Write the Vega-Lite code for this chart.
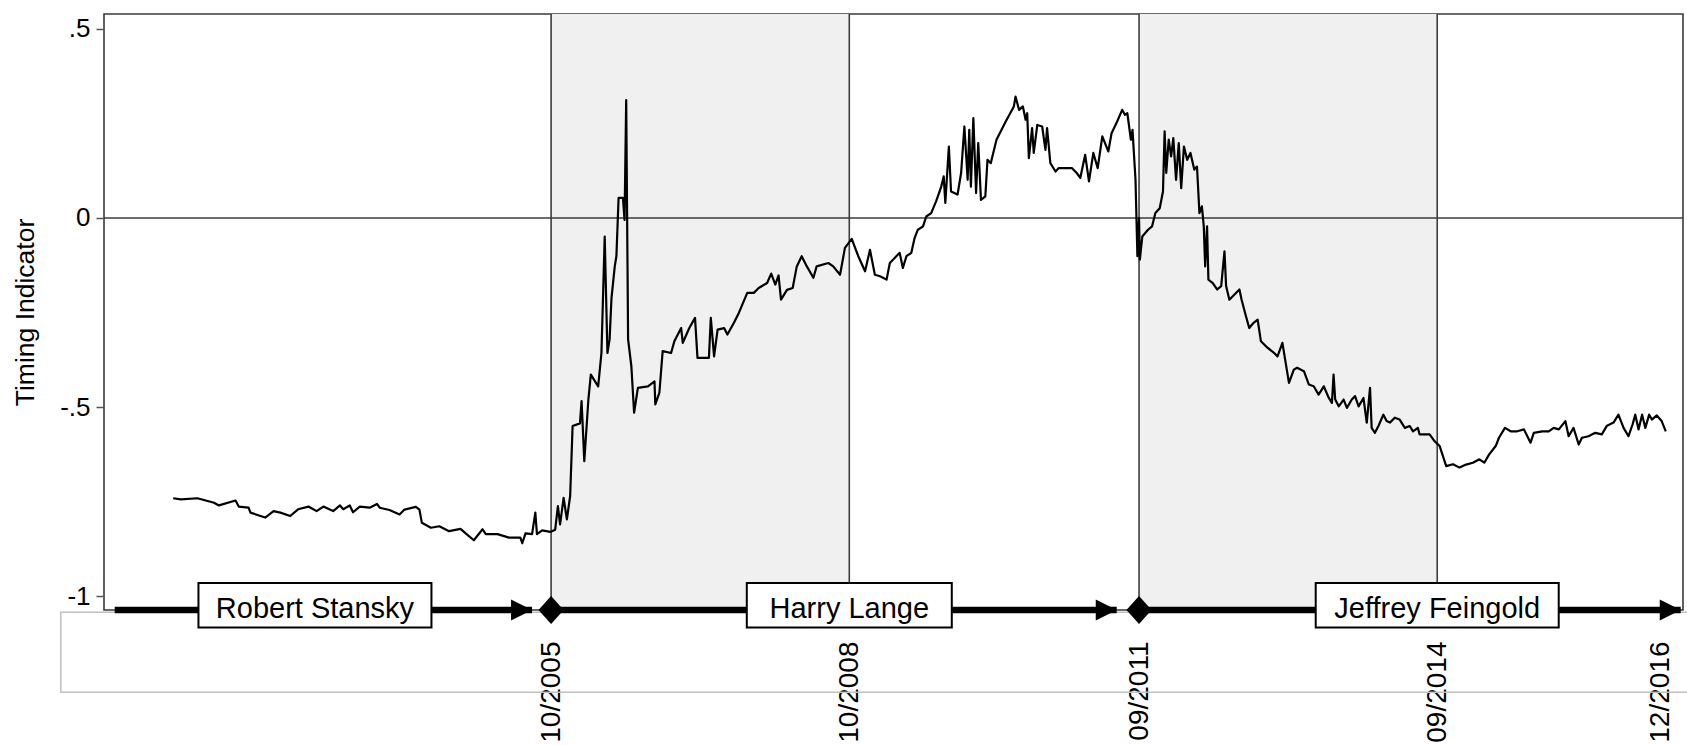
{
  "$schema": "https://vega.github.io/schema/vega-lite/v6.json",
  "width": 1579,
  "height": 596,
  "autosize": {"type": "none"},
  "padding": {"left": 104, "top": 14, "right": 4, "bottom": 135},
  "background": "white",
  "config": {
    "font": "Liberation Sans",
    "view": {"stroke": "#3a3a3a", "strokeWidth": 1.6},
    "axis": {"labelColor": "#000", "titleColor": "#000", "labelFont": "Liberation Sans", "titleFont": "Liberation Sans"}
  },
  "datasets": {
    "series": [
      {"d":"2001-12-12","v":-0.741},{"d":"2002-01-10","v":-0.744},{"d":"2002-03-11","v":-0.741},{"d":"2002-05-11","v":-0.753},{"d":"2002-05-29","v":-0.760},{"d":"2002-07-29","v":-0.747},{"d":"2002-08-10","v":-0.763},{"d":"2002-09-15","v":-0.766},{"d":"2002-09-22","v":-0.779},{"d":"2002-11-15","v":-0.792},{"d":"2002-12-16","v":-0.775},
      {"d":"2003-01-10","v":-0.779},{"d":"2003-02-15","v":-0.788},{"d":"2003-03-17","v":-0.770},{"d":"2003-04-23","v":-0.763},{"d":"2003-05-23","v":-0.775},{"d":"2003-06-17","v":-0.763},{"d":"2003-07-23","v":-0.775},{"d":"2003-08-17","v":-0.760},{"d":"2003-08-29","v":-0.770},{"d":"2003-09-22","v":-0.760},{"d":"2003-10-04","v":-0.778},{"d":"2003-10-29","v":-0.763},{"d":"2003-12-04","v":-0.766},{"d":"2003-12-31","v":-0.756},
      {"d":"2004-01-10","v":-0.766},{"d":"2004-02-15","v":-0.772},{"d":"2004-03-23","v":-0.784},{"d":"2004-04-10","v":-0.771},{"d":"2004-05-22","v":-0.764},{"d":"2004-06-04","v":-0.771},{"d":"2004-06-13","v":-0.806},{"d":"2004-07-16","v":-0.819},{"d":"2004-08-16","v":-0.815},{"d":"2004-09-21","v":-0.828},{"d":"2004-11-02","v":-0.822},{"d":"2004-11-21","v":-0.834},{"d":"2004-12-21","v":-0.852},
      {"d":"2005-01-22","v":-0.823},{"d":"2005-02-03","v":-0.836},{"d":"2005-03-18","v":-0.836},{"d":"2005-04-29","v":-0.845},{"d":"2005-06-10","v":-0.845},{"d":"2005-06-17","v":-0.860},{"d":"2005-06-29","v":-0.834},{"d":"2005-07-23","v":-0.836},{"d":"2005-08-04","v":-0.779},{"d":"2005-08-10","v":-0.836},{"d":"2005-08-29","v":-0.826},{"d":"2005-09-28","v":-0.830},{"d":"2005-10-16","v":-0.824},{"d":"2005-10-26","v":-0.762},{"d":"2005-11-03","v":-0.810},{"d":"2005-11-16","v":-0.740},{"d":"2005-11-28","v":-0.797},{"d":"2005-12-10","v":-0.735},{"d":"2005-12-19","v":-0.550},
      {"d":"2006-01-15","v":-0.543},{"d":"2006-01-21","v":-0.484},{"d":"2006-01-31","v":-0.643},{"d":"2006-02-15","v":-0.480},{"d":"2006-02-24","v":-0.414},{"d":"2006-03-23","v":-0.445},{"d":"2006-04-04","v":-0.357},{"d":"2006-04-16","v":-0.049},{"d":"2006-04-26","v":-0.357},{"d":"2006-05-04","v":-0.321},{"d":"2006-05-11","v":-0.211},{"d":"2006-05-23","v":-0.128},{"d":"2006-05-29","v":-0.101},{"d":"2006-06-06","v":0.053},{"d":"2006-06-22","v":0.053},{"d":"2006-06-28","v":-0.005},{"d":"2006-07-04","v":0.312},{"d":"2006-07-11","v":-0.321},{"d":"2006-07-23","v":-0.392},{"d":"2006-08-02","v":-0.515},{"d":"2006-08-16","v":-0.449},{"d":"2006-09-22","v":-0.445},{"d":"2006-10-16","v":-0.432},{"d":"2006-10-19","v":-0.493},{"d":"2006-11-03","v":-0.462},{"d":"2006-11-15","v":-0.352},{"d":"2006-12-16","v":-0.357},{"d":"2006-12-28","v":-0.326},
      {"d":"2007-01-22","v":-0.291},{"d":"2007-01-28","v":-0.330},{"d":"2007-02-21","v":-0.291},{"d":"2007-03-14","v":-0.264},{"d":"2007-03-23","v":-0.370},{"d":"2007-05-04","v":-0.370},{"d":"2007-05-11","v":-0.264},{"d":"2007-05-23","v":-0.366},{"d":"2007-06-05","v":-0.295},{"d":"2007-06-29","v":-0.291},{"d":"2007-07-11","v":-0.308},{"d":"2007-08-04","v":-0.277},{"d":"2007-08-22","v":-0.251},{"d":"2007-09-22","v":-0.198},{"d":"2007-10-16","v":-0.198},{"d":"2007-11-03","v":-0.185},{"d":"2007-12-04","v":-0.172},{"d":"2007-12-19","v":-0.147},
      {"d":"2008-01-03","v":-0.176},{"d":"2008-01-15","v":-0.152},{"d":"2008-01-24","v":-0.216},{"d":"2008-02-15","v":-0.190},{"d":"2008-03-07","v":-0.185},{"d":"2008-03-22","v":-0.128},{"d":"2008-04-09","v":-0.101},{"d":"2008-04-28","v":-0.128},{"d":"2008-05-22","v":-0.158},{"d":"2008-06-03","v":-0.128},{"d":"2008-07-16","v":-0.119},{"d":"2008-08-03","v":-0.128},{"d":"2008-08-28","v":-0.150},{"d":"2008-09-15","v":-0.079},{"d":"2008-10-10","v":-0.055},{"d":"2008-11-03","v":-0.101},{"d":"2008-11-28","v":-0.141},{"d":"2008-12-16","v":-0.084},
      {"d":"2009-01-03","v":-0.150},{"d":"2009-01-22","v":-0.154},{"d":"2009-02-15","v":-0.163},{"d":"2009-02-27","v":-0.119},{"d":"2009-04-04","v":-0.092},{"d":"2009-04-16","v":-0.132},{"d":"2009-04-29","v":-0.101},{"d":"2009-05-17","v":-0.092},{"d":"2009-05-29","v":-0.053},{"d":"2009-06-10","v":-0.031},{"d":"2009-06-29","v":-0.022},{"d":"2009-07-11","v":0.004},{"d":"2009-07-29","v":0.013},{"d":"2009-08-16","v":0.044},{"d":"2009-09-04","v":0.083},{"d":"2009-09-13","v":0.110},{"d":"2009-09-19","v":0.040},{"d":"2009-10-02","v":0.189},{"d":"2009-10-10","v":0.070},{"d":"2009-11-03","v":0.062},{"d":"2009-11-16","v":0.119},{"d":"2009-11-28","v":0.242},{"d":"2009-12-10","v":0.101},{"d":"2009-12-16","v":0.233},{"d":"2009-12-22","v":0.083},{"d":"2009-12-31","v":0.264},
      {"d":"2010-01-10","v":0.066},{"d":"2010-01-18","v":0.198},{"d":"2010-01-28","v":0.048},{"d":"2010-02-13","v":0.057},{"d":"2010-02-21","v":0.154},{"d":"2010-03-05","v":0.145},{"d":"2010-03-26","v":0.207},{"d":"2010-04-29","v":0.255},{"d":"2010-05-29","v":0.295},{"d":"2010-06-04","v":0.321},{"d":"2010-06-17","v":0.286},{"d":"2010-07-01","v":0.295},{"d":"2010-07-11","v":0.260},{"d":"2010-07-17","v":0.277},{"d":"2010-07-23","v":0.158},{"d":"2010-08-04","v":0.238},{"d":"2010-08-10","v":0.172},{"d":"2010-08-23","v":0.246},{"d":"2010-09-10","v":0.242},{"d":"2010-09-22","v":0.180},{"d":"2010-09-28","v":0.238},{"d":"2010-10-10","v":0.145},{"d":"2010-10-29","v":0.123},{"d":"2010-11-10","v":0.132},{"d":"2010-12-28","v":0.132},
      {"d":"2011-01-15","v":0.119},{"d":"2011-01-28","v":0.106},{"d":"2011-02-15","v":0.167},{"d":"2011-03-01","v":0.097},{"d":"2011-03-17","v":0.172},{"d":"2011-04-02","v":0.132},{"d":"2011-04-19","v":0.216},{"d":"2011-05-11","v":0.176},{"d":"2011-05-23","v":0.224},{"d":"2011-06-10","v":0.251},{"d":"2011-07-01","v":0.286},{"d":"2011-07-11","v":0.273},{"d":"2011-07-20","v":0.277},{"d":"2011-08-02","v":0.207},{"d":"2011-08-08","v":0.233},{"d":"2011-08-19","v":0.101},{"d":"2011-08-26","v":-0.101},{"d":"2011-09-01","v":0.000},{"d":"2011-09-04","v":-0.110},{"d":"2011-09-13","v":-0.049},{"d":"2011-10-04","v":-0.031},{"d":"2011-10-19","v":-0.022},{"d":"2011-10-31","v":0.013},{"d":"2011-11-16","v":0.026},{"d":"2011-11-28","v":0.070},{"d":"2011-12-04","v":0.229},{"d":"2011-12-10","v":0.119},{"d":"2011-12-19","v":0.207},{"d":"2011-12-28","v":0.163},
      {"d":"2012-01-05","v":0.211},{"d":"2012-01-15","v":0.101},{"d":"2012-01-25","v":0.198},{"d":"2012-02-03","v":0.079},{"d":"2012-02-13","v":0.189},{"d":"2012-02-25","v":0.154},{"d":"2012-03-08","v":0.172},{"d":"2012-03-22","v":0.128},{"d":"2012-04-01","v":0.136},{"d":"2012-04-10","v":0.013},{"d":"2012-04-19","v":0.031},{"d":"2012-04-26","v":-0.022},{"d":"2012-05-01","v":-0.128},{"d":"2012-05-08","v":-0.022},{"d":"2012-05-13","v":-0.163},{"d":"2012-05-29","v":-0.172},{"d":"2012-06-14","v":-0.189},{"d":"2012-06-29","v":-0.180},{"d":"2012-07-11","v":-0.088},{"d":"2012-07-17","v":-0.180},{"d":"2012-07-29","v":-0.216},{"d":"2012-08-16","v":-0.203},{"d":"2012-09-04","v":-0.189},{"d":"2012-09-12","v":-0.216},{"d":"2012-09-28","v":-0.260},{"d":"2012-10-10","v":-0.291},{"d":"2012-10-26","v":-0.277},{"d":"2012-11-10","v":-0.269},{"d":"2012-11-22","v":-0.326},{"d":"2012-12-16","v":-0.343},
      {"d":"2013-01-10","v":-0.357},{"d":"2013-01-22","v":-0.366},{"d":"2013-02-09","v":-0.330},{"d":"2013-02-21","v":-0.383},{"d":"2013-03-05","v":-0.436},{"d":"2013-03-23","v":-0.401},{"d":"2013-04-04","v":-0.396},{"d":"2013-04-29","v":-0.405},{"d":"2013-05-17","v":-0.440},{"d":"2013-06-04","v":-0.445},{"d":"2013-06-22","v":-0.467},{"d":"2013-07-11","v":-0.445},{"d":"2013-07-29","v":-0.475},{"d":"2013-08-10","v":-0.489},{"d":"2013-08-16","v":-0.414},{"d":"2013-08-22","v":-0.480},{"d":"2013-09-04","v":-0.498},{"d":"2013-09-22","v":-0.480},{"d":"2013-10-04","v":-0.502},{"d":"2013-10-22","v":-0.480},{"d":"2013-11-03","v":-0.471},{"d":"2013-11-16","v":-0.498},{"d":"2013-12-04","v":-0.476},{"d":"2013-12-16","v":-0.541},{"d":"2013-12-28","v":-0.449},
      {"d":"2014-01-03","v":-0.555},{"d":"2014-01-15","v":-0.568},{"d":"2014-01-28","v":-0.550},{"d":"2014-02-15","v":-0.520},{"d":"2014-02-27","v":-0.537},{"d":"2014-03-11","v":-0.541},{"d":"2014-03-29","v":-0.528},{"d":"2014-04-16","v":-0.533},{"d":"2014-05-05","v":-0.555},{"d":"2014-05-23","v":-0.550},{"d":"2014-06-04","v":-0.564},{"d":"2014-06-22","v":-0.555},{"d":"2014-06-28","v":-0.572},{"d":"2014-08-04","v":-0.572},{"d":"2014-08-22","v":-0.590},{"d":"2014-09-10","v":-0.603},{"d":"2014-10-04","v":-0.656},{"d":"2014-10-29","v":-0.651},{"d":"2014-11-22","v":-0.660},{"d":"2014-12-16","v":-0.652},
      {"d":"2015-01-10","v":-0.647},{"d":"2015-02-03","v":-0.638},{"d":"2015-02-21","v":-0.647},{"d":"2015-03-11","v":-0.625},{"d":"2015-04-04","v":-0.603},{"d":"2015-04-16","v":-0.581},{"d":"2015-05-08","v":-0.555},{"d":"2015-05-29","v":-0.564},{"d":"2015-06-22","v":-0.564},{"d":"2015-07-17","v":-0.559},{"d":"2015-08-10","v":-0.594},{"d":"2015-08-22","v":-0.568},{"d":"2015-09-22","v":-0.564},{"d":"2015-10-16","v":-0.564},{"d":"2015-11-03","v":-0.555},{"d":"2015-11-22","v":-0.559},{"d":"2015-12-16","v":-0.537},{"d":"2015-12-28","v":-0.577},
      {"d":"2016-01-15","v":-0.555},{"d":"2016-02-03","v":-0.599},{"d":"2016-02-15","v":-0.581},{"d":"2016-03-10","v":-0.577},{"d":"2016-04-04","v":-0.568},{"d":"2016-04-28","v":-0.572},{"d":"2016-05-17","v":-0.549},{"d":"2016-06-10","v":-0.541},{"d":"2016-06-28","v":-0.520},{"d":"2016-07-17","v":-0.555},{"d":"2016-08-04","v":-0.577},{"d":"2016-08-19","v":-0.546},{"d":"2016-08-29","v":-0.520},{"d":"2016-09-10","v":-0.559},{"d":"2016-09-23","v":-0.520},{"d":"2016-10-05","v":-0.555},{"d":"2016-10-19","v":-0.520},{"d":"2016-10-29","v":-0.533},{"d":"2016-11-16","v":-0.522},{"d":"2016-12-04","v":-0.537},{"d":"2016-12-19","v":-0.564}
    ],
    "managers": [
      {"manager": "Robert Stansky", "start": "2001-05-11", "tip": "2005-07-23", "label_at": "2003-05-17"},
      {"manager": "Harry Lange", "start": "2005-10-01", "tip": "2011-06-11", "label_at": "2008-10-01"},
      {"manager": "Jeffrey Feingold", "start": "2011-09-01", "tip": "2017-02-12", "label_at": "2014-09-01"}
    ],
    "handovers": [{"date": "2005-10-01"}, {"date": "2011-09-01"}],
    "windows": [
      {"from": "2005-10-01", "to": "2008-10-01"},
      {"from": "2011-09-01", "to": "2014-09-01"}
    ],
    "boundaries": [{"date": "2005-10-01"}, {"date": "2008-10-01"}, {"date": "2011-09-01"}, {"date": "2014-09-01"}]
  },
  "layer": [
    {
      "data": {"name": "windows"},
      "mark": {"type": "rect", "fill": "#f0f0f0"},
      "encoding": {
        "x": {
          "field": "from", "type": "temporal",
          "scale": {"domain": [{"year": 2001, "month": 4, "date": 20}, {"year": 2017, "month": 2, "date": 2}], "nice": false},
          "axis": {
            "title": null,
            "values": [{"year": 2005, "month": 10, "date": 1}, {"year": 2008, "month": 10, "date": 1}, {"year": 2011, "month": 9, "date": 1}, {"year": 2014, "month": 9, "date": 1}, {"year": 2016, "month": 12, "date": 1}],
            "format": "%m/%Y",
            "labelAngle": 270,
            "labelAlign": "right",
            "labelBaseline": "middle",
            "labelFontSize": 28,
            "labelPadding": 31,
            "ticks": false,
            "domain": false,
            "grid": false,
            "labelFlush": false,
            "labelOverlap": false,
            "labelBound": false
          }
        },
        "x2": {"field": "to"}
      }
    },
    {
      "data": {"name": "boundaries"},
      "mark": {"type": "rule", "color": "#3c3c3c", "strokeWidth": 1.6},
      "encoding": {
        "x": {"field": "date", "type": "temporal", "title": null}
      }
    },
    {
      "data": {"values": [{}]},
      "mark": {"type": "rule", "color": "#3c3c3c", "strokeWidth": 1.6},
      "encoding": {
        "y": {
          "datum": 0, "type": "quantitative",
          "scale": {"domain": [-1.0365, 0.5394], "nice": false, "zero": false},
          "axis": {
            "title": "Timing Indicator",
            "titleFontSize": 26.5,
            "titleFontWeight": "normal",
            "titlePadding": 20,
            "values": [-1, -0.5, 0, 0.5],
            "labelExpr": "replace('' + datum.value, '0.', '.')",
            "labelFontSize": 26,
            "labelPadding": 6,
            "tickSize": 8,
            "tickWidth": 1.5,
            "tickColor": "#555555",
            "domain": false,
            "grid": false
          }
        }
      }
    },
    {
      "data": {"name": "series"},
      "mark": {"type": "line", "color": "#000000", "strokeWidth": 2.2, "strokeJoin": "round"},
      "encoding": {
        "x": {"field": "d", "type": "temporal", "title": null},
        "y": {"field": "v", "type": "quantitative", "title": "Timing Indicator"}
      }
    },
    {
      "data": {"values": [{}]},
      "mark": {"type": "rect", "fill": null, "stroke": "#c0c0c0", "strokeWidth": 1.5},
      "encoding": {
        "x": {"datum": {"year": 2000, "month": 10, "date": 25}, "type": "temporal"},
        "x2": {"datum": {"year": 2018, "month": 6, "date": 1}},
        "y": {"datum": -1.0426, "type": "quantitative"},
        "y2": {"datum": -1.2541}
      }
    },
    {
      "data": {"name": "managers"},
      "mark": {"type": "rule", "color": "#000000", "strokeWidth": 6.5, "strokeCap": "butt"},
      "encoding": {
        "x": {"field": "start", "type": "temporal", "title": null},
        "x2": {"field": "tip"},
        "y": {"datum": -1.0365, "type": "quantitative"}
      }
    },
    {
      "data": {"name": "managers"},
      "mark": {"type": "point", "shape": "M-2,-1L0,0L-2,1Z", "size": 441, "filled": true, "fill": "#000000", "opacity": 1, "strokeWidth": 0},
      "encoding": {
        "x": {"field": "tip", "type": "temporal", "title": null},
        "y": {"datum": -1.0365, "type": "quantitative"}
      }
    },
    {
      "data": {"name": "handovers"},
      "mark": {"type": "point", "shape": "M-0.9,0L0,-1L0.9,0L0,1Z", "size": 784, "filled": true, "fill": "#000000", "opacity": 1, "strokeWidth": 0},
      "encoding": {
        "x": {"field": "date", "type": "temporal", "title": null},
        "y": {"datum": -1.0365, "type": "quantitative"}
      }
    },
    {
      "data": {"name": "managers"},
      "mark": {"type": "bar", "fill": "#ffffff", "stroke": "#000000", "strokeWidth": 2},
      "encoding": {
        "x": {"field": "label_at", "type": "temporal", "title": null},
        "y": {"datum": -0.9651, "type": "quantitative"},
        "y2": {"datum": -1.0826},
        "size": {
          "condition": [
            {"test": "datum.manager === 'Harry Lange'", "value": 205},
            {"test": "datum.manager === 'Jeffrey Feingold'", "value": 243}
          ],
          "value": 233
        }
      }
    },
    {
      "data": {"name": "managers"},
      "mark": {"type": "text", "fontSize": 29, "font": "Liberation Sans", "color": "#000000", "align": "center", "baseline": "middle"},
      "encoding": {
        "x": {"field": "label_at", "type": "temporal", "title": null},
        "y": {"datum": -1.0338, "type": "quantitative"},
        "text": {"field": "manager"}
      }
    }
  ]
}
